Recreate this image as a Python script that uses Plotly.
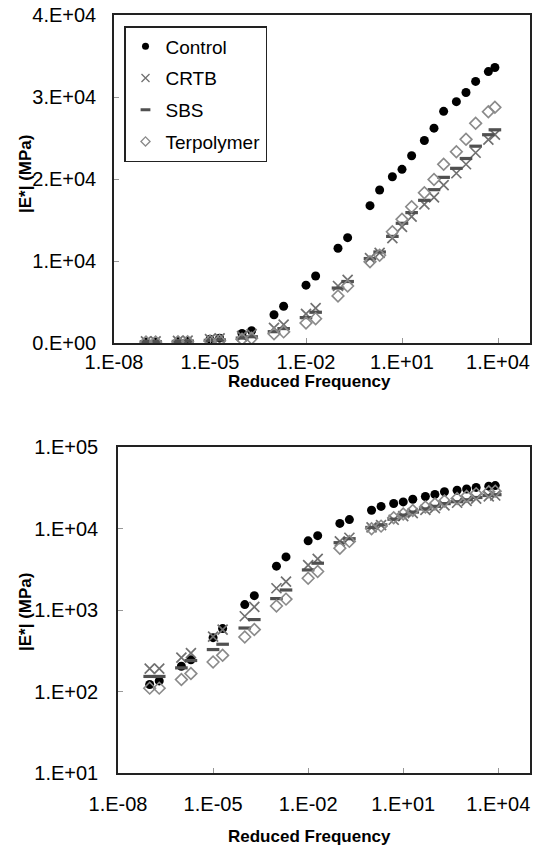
import plotly.graph_objects as go

# Reduced frequency (Hz) for the master-curve points
freq = [1e-7, 2e-7, 1e-6, 2e-6, 1e-5, 2e-5, 1e-4, 2e-4, 1e-3, 2e-3,
        1e-2, 2e-2, 0.1, 0.2, 1, 2, 5, 10, 20, 50,
        100, 200, 500, 1000, 2000, 5000, 8000]

# Dynamic modulus |E*| (MPa) per binder
control = [122, 135, 204, 245, 458, 591, 1165, 1500, 3450, 4480,
           7050, 8170, 11550, 12850, 16750, 18660, 20280, 21180, 22840, 24700,
           26200, 28250, 29430, 30550, 31900, 33100, 33600]
crtb = [191, 191, 261, 295, 470, 575, 838, 1090, 1850, 2230,
        3550, 4250, 6950, 7700, 10350, 11000, 12800, 14150, 15400, 16900,
        17750, 19250, 20700, 21800, 23200, 24800, 25400]
sbs = [153, 153, 195, 240, 327, 380, 601, 763, 1380, 1760,
       3100, 3750, 6700, 7500, 10300, 11100, 13000, 14600, 15900, 17400,
       18700, 20200, 21300, 22500, 24000, 25400, 26000]
terpolymer = [110, 110, 140, 166, 230, 278, 467, 575, 1120, 1360,
              2450, 2970, 5740, 6950, 9920, 10700, 13570, 15080, 16620, 18330,
              19950, 21790, 23330, 24840, 26790, 28210, 28740]

series_names = ["Control", "CRTB", "SBS", "Terpolymer"]

# Tick labels
x_tickvals = [1e-8, 1e-5, 1e-2, 1e1, 1e4]
x_ticktext = ["1.E-08", "1.E-05", "1.E-02", "1.E+01", "1.E+04"]
lin_tickvals = [0, 10000, 20000, 30000, 40000]
lin_ticktext = ["0.E+00", "1.E+04", "2.E+04", "3.E+04", "4.E+04"]
log_tickvals = [10, 100, 1000, 10000, 100000]
log_ticktext = ["1.E+01", "1.E+02", "1.E+03", "1.E+04", "1.E+05"]

FONT = "Liberation Sans, Arial, sans-serif"
W, H = 536, 849

styles = [
    dict(symbol="circle", color="black", size=9, line=dict(width=0)),
    dict(symbol="x-thin-open", color="#707070", size=10, line=dict(width=1.7, color="#707070")),
    dict(symbol="line-ew-open", color="#505050", size=9, line=dict(width=3.2, color="#505050")),
    dict(symbol="diamond-open", color="#8a8a8a", size=9, line=dict(width=1.6, color="#8a8a8a")),
]
legend_styles = [
    dict(symbol="circle", color="black", size=7, line=dict(width=0)),
    dict(symbol="x-thin-open", color="#707070", size=8, line=dict(width=1.3, color="#707070")),
    dict(symbol="line-ew-open", color="#505050", size=7, line=dict(width=3, color="#505050")),
    dict(symbol="diamond-open", color="#8a8a8a", size=7, line=dict(width=1.3, color="#8a8a8a")),
]
data = [control, crtb, sbs, terpolymer]

fig = go.Figure()

for name, vals, st in zip(series_names, data, styles):
    for xa, ya in (("x", "y"), ("x2", "y2")):
        fig.add_trace(go.Scatter(
            x=freq, y=vals, mode="markers", name=name, marker=st,
            xaxis=xa, yaxis=ya, showlegend=False, hoverinfo="skip"))

for i, (name, st) in enumerate(zip(series_names, legend_styles)):
    fig.add_trace(go.Scatter(
        x=[None], y=[None], mode="markers", name=name, marker=st,
        xaxis="x", yaxis="y", legendgroup=f"g{i}", showlegend=True))


def px_x(p):
    return p / W


def px_y(p):
    return 1 - p / H


frame = dict(showline=True, mirror=True, linecolor="#222222", linewidth=1.5,
             showgrid=False, zeroline=False, ticks="inside", ticklen=5,
             tickcolor="#999999", tickwidth=1, automargin=False,
             tickfont=dict(family=FONT, size=20, color="black"))

fig.update_layout(
    width=W, height=H,
    margin=dict(l=0, r=0, t=0, b=0, autoexpand=False),
    paper_bgcolor="white", plot_bgcolor="white",
    font=dict(family=FONT, color="black"),
    showlegend=True,
    legend=dict(x=px_x(124), y=px_y(26), xanchor="left", yanchor="top",
                bgcolor="white", bordercolor="#222222", borderwidth=1.5,
                font=dict(family=FONT, size=19, color="black"),
                tracegroupgap=4, itemsizing="trace"),
    xaxis=dict(frame, type="log", range=[-8, 5], domain=[px_x(114), px_x(530)],
               anchor="y", tickvals=x_tickvals, ticktext=x_ticktext,
               ticklabelstandoff=0),
    yaxis=dict(frame, range=[0, 40000], domain=[px_y(343), px_y(15)],
               anchor="x", tickvals=lin_tickvals, ticktext=lin_ticktext,
               ticklabelstandoff=12),
    xaxis2=dict(frame, type="log", range=[-8, 5], domain=[px_x(118), px_x(530)],
                anchor="y2", tickvals=x_tickvals, ticktext=x_ticktext,
                ticklabelstandoff=12),
    yaxis2=dict(frame, type="log", range=[1, 5], domain=[px_y(773), px_y(447)],
                anchor="x2", tickvals=log_tickvals, ticktext=log_ticktext,
                ticklabelstandoff=14),
)

title_font = dict(family=FONT, size=17, color="black")
for ytxt in (381, 836):
    fig.add_annotation(text="<b>Reduced Frequency</b>", xref="paper", yref="paper",
                       x=px_x(309), y=px_y(ytxt), xanchor="center", yanchor="middle",
                       showarrow=False, font=title_font)
for ytxt in (174, 612):
    fig.add_annotation(text="<b>|E*| (MPa)</b>", xref="paper", yref="paper",
                       x=px_x(25), y=px_y(ytxt), xanchor="center", yanchor="middle",
                       textangle=-90, showarrow=False, font=title_font)

fig.write_html("out.html")
